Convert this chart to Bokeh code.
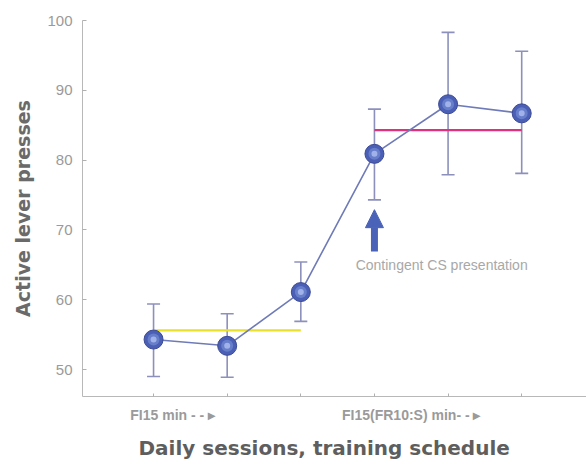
from bokeh.plotting import figure
from bokeh.models import (ColumnDataSource, FixedTicker, Range1d, Label, Arrow,
                          NormalHead, Title)
from bokeh.embed import file_html
from bokeh.resources import INLINE

# ---- data ----
sessions = [1, 2, 3, 4, 5, 6]
means = [54.3, 53.4, 61.1, 80.9, 88.0, 86.7]
upper = [59.4, 58.0, 65.4, 87.3, 98.3, 95.6]
lower = [49.0, 48.9, 56.9, 74.3, 77.9, 78.1]

fi15_x = [1, 3]
fi15_y = [55.6, 55.6]
fr_x = [4, 6]
fr_y = [84.3, 84.3]

y_ticks = [50, 60, 70, 80, 90, 100]
x_label_pos = [1.26, 4.50]
x_label_text = ["FI15 min - - \u25b8", "FI15(FR10:S) min- - \u25b8"]

arrow_x = 4
arrow_y_start = 66.9
arrow_y_end = 72.9
arrow_shaft_top = 70.2
note_x = 3.745
note_y = 65.0
note_text = "Contingent CS presentation"

x_title = "Daily sessions, training schedule"
y_title = "Active lever presses"

src = ColumnDataSource(dict(x=sessions, m=means, up=upper, lo=lower))

p = figure(width=586, height=467, output_backend="svg", toolbar_location=None,
           x_range=Range1d(0.035, 6.88), y_range=Range1d(46.14, 100.0),
           min_border_left=82, min_border_right=0, min_border_top=20,
           min_border_bottom=70)
p.outline_line_color = None
p.xgrid.visible = False
p.ygrid.visible = False
p.background_fill_color = "white"
p.border_fill_color = "white"

# x axis
xa = p.xaxis[0]
xa.ticker = FixedTicker(ticks=x_label_pos, minor_ticks=sessions)
xa.major_label_overrides = {x_label_pos[i]: x_label_text[i] for i in range(2)}
xa.major_tick_in = 0
xa.major_tick_out = 0
xa.minor_tick_in = 3
xa.minor_tick_out = 0
xa.minor_tick_line_color = "#b0b0b0"
xa.axis_line_color = "#b8b8b8"
xa.major_label_text_font = "Liberation Sans"
xa.major_label_text_font_style = "bold"
xa.major_label_text_font_size = "14px"
xa.major_label_text_color = "#9a9a9a"
xa.major_label_standoff = 10

# y axis
ya = p.yaxis[0]
ya.ticker = FixedTicker(ticks=y_ticks)
ya.minor_tick_line_color = None
ya.major_tick_in = 4
ya.major_tick_out = 0
ya.major_tick_line_color = "#b0b0b0"
ya.axis_line_color = "#b8b8b8"
ya.major_label_text_font = "Liberation Sans"
ya.major_label_text_font_size = "15px"
ya.major_label_text_color = "#9a9a9a"
ya.major_label_standoff = 10
ya.axis_label = y_title
ya.axis_label_text_font = "DejaVu Sans"
ya.axis_label_text_font_style = "bold"
ya.axis_label_text_font_size = "19px"
ya.axis_label_text_color = "#6a6a6a"
ya.axis_label_standoff = 10

p.add_layout(Title(text=x_title, align="left", offset=56,
                   text_font="DejaVu Sans", text_font_size="20px",
                   text_font_style="bold", text_color="#5e5e5e",
                   standoff=16), "below")

# error bars
p.segment(x0="x", y0="lo", x1="x", y1="up", source=src, line_color="#8c90bb",
          line_width=1.6)
p.scatter(x="x", y="up", source=src, marker="dash", size=13,
          line_color="#8c90bb", line_width=1.6)
p.scatter(x="x", y="lo", source=src, marker="dash", size=13,
          line_color="#8c90bb", line_width=1.6)

# schedule means
p.line(fi15_x, fi15_y, line_color="#e8e02a", line_width=2.2)
p.line(fr_x, fr_y, line_color="#e0307f", line_width=2.2)

# connecting line
p.line(x="x", y="m", source=src, line_color="#6f7bb8", line_width=1.6)

# markers
p.scatter(x="x", y="m", source=src, size=19, fill_color="#4a5fb5",
          line_color="#3c4a94", line_width=1)
p.scatter(x="x", y="m", source=src, size=12, fill_color="#6a82cc",
          line_color=None, fill_alpha=0.9)
p.scatter(x="x", y="m", source=src, size=6, fill_color="#a6b8ec",
          line_color=None, fill_alpha=0.9)

# arrow
p.add_layout(Arrow(end=NormalHead(size=18, fill_color="#4a62b8",
                                  line_color="#4a62b8"),
                   x_start=arrow_x, y_start=arrow_y_start,
                   x_end=arrow_x, y_end=arrow_y_end,
                   line_color="#4a62b8", line_width=7))
p.segment(x0=[arrow_x], y0=[arrow_y_start + 0.3], x1=[arrow_x],
          y1=[arrow_shaft_top], line_color="#dfe6f7", line_width=3.5)

p.add_layout(Label(x=note_x, y=note_y, text=note_text, text_align="left",
                   text_baseline="middle", text_font_size="14px",
                   text_font="Liberation Sans", text_color="#a8a8a8"))

open("out.html", "w").write(file_html(p, INLINE))
